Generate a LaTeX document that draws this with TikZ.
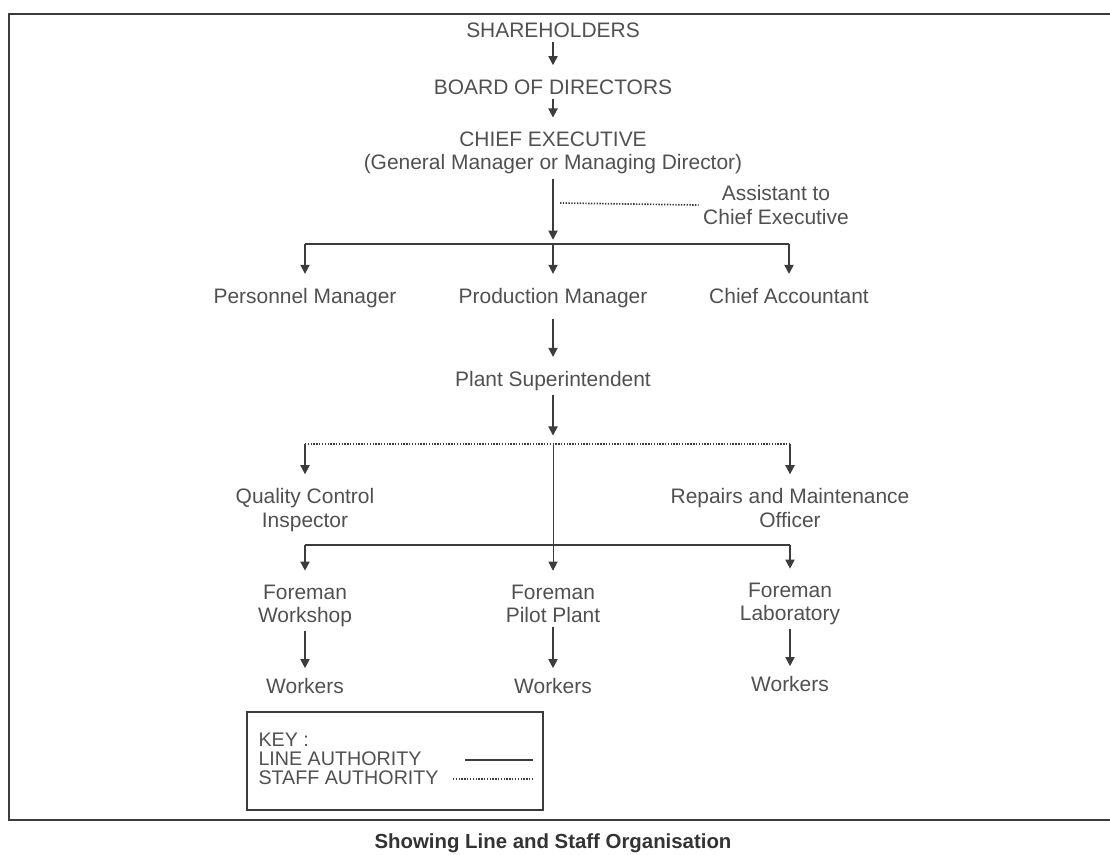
\documentclass[tikz,border=0pt]{standalone}
\usepackage{fontspec}
\setmainfont{Liberation Sans}
\usetikzlibrary{arrows.meta,positioning}
\definecolor{inkgrey}{HTML}{505050}
\definecolor{rulegrey}{HTML}{3C3C3C}
\tikzset{
	post/.style={font=\fontsize{14.9}{16.5}\selectfont, text=inkgrey, inner sep=3pt, align=center},
	keytext/.style={post, font=\fontsize{14}{15}\selectfont, anchor=west, align=left},
	lineauth/.style={draw=rulegrey, line width=1.2pt, -{Triangle[length=6.5pt,width=6.5pt]}, shorten >=7pt},
	linkauth/.style={draw=rulegrey, line width=1.2pt},
	staffauth/.style={draw=rulegrey, line width=1.2pt, dash pattern=on 1pt off 1pt}
}

\begin{document}
\begin{tikzpicture}[x=0.025cm, y=-0.025cm]
	\useasboundingbox (0,0) rectangle (1110,854);
	\draw[rulegrey, line width=2pt] (1110,14) -- (9,14) -- (9,820) -- (1110,820);
	% top of the line
	\node[post] (share) at (553,30) {SHAREHOLDERS};
	\node[post] (board) at (553,87) {BOARD OF DIRECTORS};
	\node[post] (chief) at (553,153) {CHIEF EXECUTIVE\\(General Manager or Managing Director)};
	\node[post] (assist) at (776,205) {Assistant to\\Chief Executive};
	\node[post] (persmgr) at (305,298) {Personnel Manager};
	\node[post] (prodmgr) at (553,298) {Production Manager};
	\node[post] (chiefacc) at (789,296) {Chief Accountant};
	\node[post] (plant) at (553,381) {Plant Superintendent};
	\node[post] (quality) at (305,510) {Quality Control\\Inspector};
	\node[post] (repairs) at (790,508) {Repairs and Maintenance\\Officer};
	\node[post] (workshop) at (305,606) {Foreman\\Workshop};
	\node[post] (pilot) at (553,604) {Foreman\\Pilot Plant};
	\node[post] (lab) at (790,604) {Foreman\\Laboratory};
	\node[post] (wkshop) at (305,686) {Workers};
	\node[post] (wkpilot) at (553,686) {Workers};
	\node[post] (wklab) at (790,684) {Workers};
	\coordinate (bar) at (553,244);
	\coordinate (sbar) at (553,444);
	\coordinate (fbar) at (553,545);
	\coordinate (staffA) at (560,203);
	\draw[lineauth] (share) -- (board);
	\draw[lineauth] (board) -- (chief);
	\draw[lineauth, shorten >=3pt] (chief) -- (bar);
	\draw[staffauth] (staffA) -- (assist.west);
	\draw[linkauth] (bar -| persmgr) -- (bar -| chiefacc);
	\draw[lineauth] (bar -| persmgr) -- (persmgr);
	\draw[lineauth] (bar) -- (prodmgr);
	\draw[lineauth] (bar -| chiefacc) -- (chiefacc);
	\draw[lineauth, shorten <=5pt] (prodmgr) -- (plant);
	\draw[lineauth, shorten >=6pt] (plant) -- (sbar);
	% staff side
	\draw[staffauth] (sbar -| quality) -- (sbar -| repairs);
	\draw[lineauth] (sbar -| quality) -- (quality);
	\draw[lineauth] (sbar -| repairs) -- (repairs);
	\draw[lineauth, line width=.6pt] (sbar) -- (pilot);
	% foremen
	\draw[linkauth] (fbar -| workshop) -- (fbar -| lab);
	\draw[lineauth] (fbar -| workshop) -- (workshop);
	\draw[lineauth] (fbar -| lab) -- (lab);
	\draw[lineauth, shorten >=4pt] (workshop) -- (wkshop);
	\draw[lineauth, shorten >=4pt] (pilot) -- (wkpilot);
	\draw[lineauth, shorten >=4pt] (lab) -- (wklab);
	% key
	\draw[rulegrey, line width=1pt] (247,712) rectangle (543,810);
	\node[keytext] (keyhead) at (254,740) {KEY :};
	\node[keytext] (keyline) at (254,759) {LINE AUTHORITY};
	\node[keytext] (keystaff) at (254,778) {STAFF AUTHORITY};
	\draw[linkauth, line width=1pt] (465,760) -- (533,760);
	\draw[staffauth, line width=1pt] (453,779) -- (533,779);
	\node[post, font=\fontsize{14.5}{16}\selectfont\bfseries, text=black!80] (caption) at (553,843) {Showing Line and Staff Organisation};
\end{tikzpicture}
\end{document}
